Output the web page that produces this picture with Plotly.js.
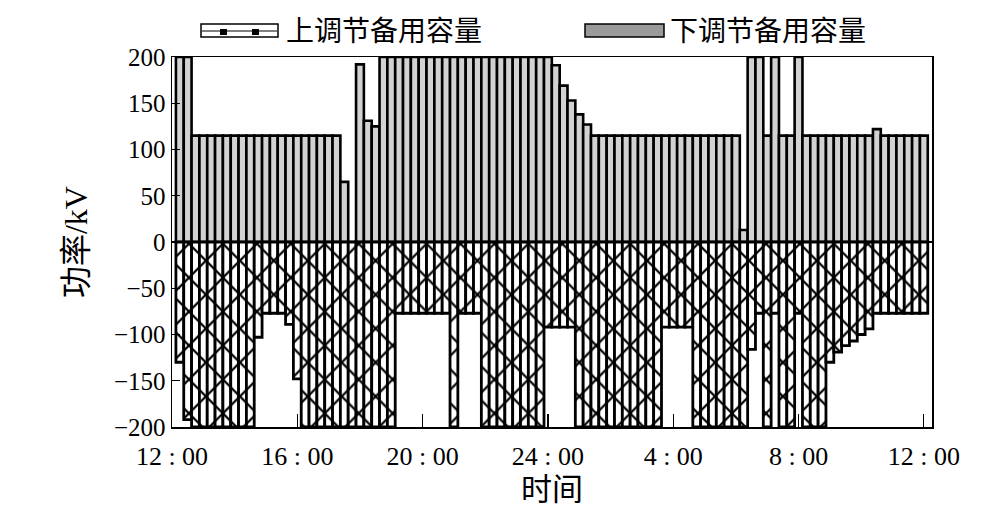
<!DOCTYPE html>
<html>
<head>
<meta charset="utf-8">
<script src="https://cdn.plot.ly/plotly-3.0.1.min.js"></script>
<style>html,body{margin:0;padding:0;background:#fff;}#chart{width:1005px;height:517px;}</style>
</head>
<body>
<div id="chart"></div>
<script>
// Hours after 12:00 (end of each 15-min interval)
const hours = [
  0.25,0.5,0.75,1,1.25,1.5,1.75,2,
  2.25,2.5,2.75,3,3.25,3.5,3.75,4,
  4.25,4.5,4.75,5,5.25,5.5,5.75,6,
  6.25,6.5,6.75,7,7.25,7.5,7.75,8,
  8.25,8.5,8.75,9,9.25,9.5,9.75,10,
  10.25,10.5,10.75,11,11.25,11.5,11.75,12,
  12.25,12.5,12.75,13,13.25,13.5,13.75,14,
  14.25,14.5,14.75,15,15.25,15.5,15.75,16,
  16.25,16.5,16.75,17,17.25,17.5,17.75,18,
  18.25,18.5,18.75,19,19.25,19.5,19.75,20,
  20.25,20.5,20.75,21,21.25,21.5,21.75,22,
  22.25,22.5,22.75,23,23.25,23.5,23.75,24
];

// 下调节备用容量 (positive)
const downReserve = [
  200,200,115,115,115,115,115,115,
  115,115,115,115,115,115,115,115,
  115,115,115,115,115,65,0,192,
  131,125,200,200,200,200,200,200,
  200,200,200,200,200,200,200,200,
  200,200,200,200,200,200,200,200,
  191,169,153,138,127,115,115,115,
  115,115,115,115,115,115,115,115,
  115,115,115,115,115,115,115,115,
  13,200,200,115,200,115,115,200,
  115,115,115,115,115,115,115,115,
  115,122,115,115,115,115,115,115
];

// 上调节备用容量 (negative)
const upReserve = [
  -130,-192,-200,-200,-200,-200,-200,-200,
  -200,-200,-103,-77,-77,-77,-89,-148,
  -200,-200,-200,-200,-200,-200,-200,-200,
  -200,-200,-200,-200,-77,-77,-77,-77,
  -77,-77,-77,-200,-77,-77,-77,-200,
  -200,-200,-200,-200,-200,-200,-200,-92,
  -92,-92,-92,-200,-200,-200,-200,-200,
  -200,-200,-200,-200,-200,-200,-92,-92,
  -92,-92,-200,-200,-200,-200,-200,-200,
  -200,-116,-77,-200,-77,-200,-200,-77,
  -200,-200,-200,-130,-119,-112,-107,-100,
  -94,-77,-77,-77,-77,-77,-77,-77
];

const xTickVals = [0,4,8,12,16,20,24];
const xTickText = ['12 : 00','16 : 00','20 : 00','24 : 00','4 : 00','8 : 00','12 : 00'];
const yTickVals = [-200,-150,-100,-50,0,50,100,150,200];
const seriesNames = ['上调节备用容量','下调节备用容量'];

const FONT = 'Liberation Serif, "Noto Sans CJK SC", serif';

const traces = [
  {
    type: 'bar', name: seriesNames[1], x: hours, y: downReserve,
    width: 0.25,
    marker: {color: '#d2d2d2', line: {color: '#000', width: 2.6}},
    showlegend: false
  },
  {
    type: 'bar', name: seriesNames[0], x: hours, y: upReserve,
    width: 0.25,
    marker: {color: '#fff', line: {color: '#000', width: 2.8},
      pattern: {shape: 'x', fgcolor: '#000', bgcolor: '#fff', size: 24, solidity: 0.18}},
    showlegend: false
  }
];

const px = v => (v - 172) / 760;
const py = v => (427 - v) / 370;

const layout = {
  width: 1005, height: 517,
  margin: {l: 172, r: 73, t: 57, b: 90},
  paper_bgcolor: '#fff', plot_bgcolor: '#fff',
  barmode: 'relative', bargap: 0,
  font: {family: FONT, color: '#000', size: 26},
  xaxis: {
    range: [0, 24.26], tickvals: xTickVals, ticktext: xTickText,
    ticks: 'inside', ticklen: 13, tickwidth: 1.2, tickcolor: '#000',
    ticklabelstandoff: 5,
    showline: true, linecolor: '#000', linewidth: 1.5, mirror: true,
    showgrid: false, zeroline: false,
    tickfont: {family: FONT, size: 26, color: '#000'},
    title: {text: '时间', font: {family: FONT, size: 31, color: '#000'}, standoff: 8}
  },
  yaxis: {
    range: [-200, 200], tickvals: yTickVals,
    ticks: 'inside', ticklen: 8, tickwidth: 1.2, tickcolor: '#000',
    showline: true, linecolor: '#000', linewidth: 1.5, mirror: true,
    showgrid: false, zeroline: true, zerolinecolor: '#000', zerolinewidth: 1.5,
    tickfont: {family: FONT, size: 25, color: '#000'},
    title: {text: '功率/kV', font: {family: FONT, size: 32, color: '#000'}, standoff: 16}
  },
  shapes: [
    {type: 'rect', xref: 'paper', yref: 'paper', x0: px(201), x1: px(278), y0: py(37), y1: py(24),
      fillcolor: '#fff', line: {color: '#000', width: 1.5}},
    {type: 'line', xref: 'paper', yref: 'paper', x0: px(202), x1: px(277), y0: py(31), y1: py(31),
      line: {color: '#000', width: 1}},
    {type: 'rect', xref: 'paper', yref: 'paper', x0: px(220), x1: px(227), y0: py(35), y1: py(29),
      fillcolor: '#000', line: {width: 0}},
    {type: 'rect', xref: 'paper', yref: 'paper', x0: px(252), x1: px(259), y0: py(35), y1: py(29),
      fillcolor: '#000', line: {width: 0}},
    {type: 'rect', xref: 'paper', yref: 'paper', x0: px(585), x1: px(664), y0: py(37), y1: py(24),
      fillcolor: '#9a9a9a', line: {color: '#000', width: 1.5}}
  ],
  annotations: [
    {xref: 'paper', yref: 'paper', x: px(284), y: py(31), xanchor: 'left', yanchor: 'middle',
      text: seriesNames[0], showarrow: false, font: {family: FONT, size: 28, color: '#000'}},
    {xref: 'paper', yref: 'paper', x: px(668), y: py(31), xanchor: 'left', yanchor: 'middle',
      text: seriesNames[1], showarrow: false, font: {family: FONT, size: 28, color: '#000'}}
  ]
};

Plotly.newPlot('chart', traces, layout, {displayModeBar: false, staticPlot: true});
</script>
</body>
</html>
